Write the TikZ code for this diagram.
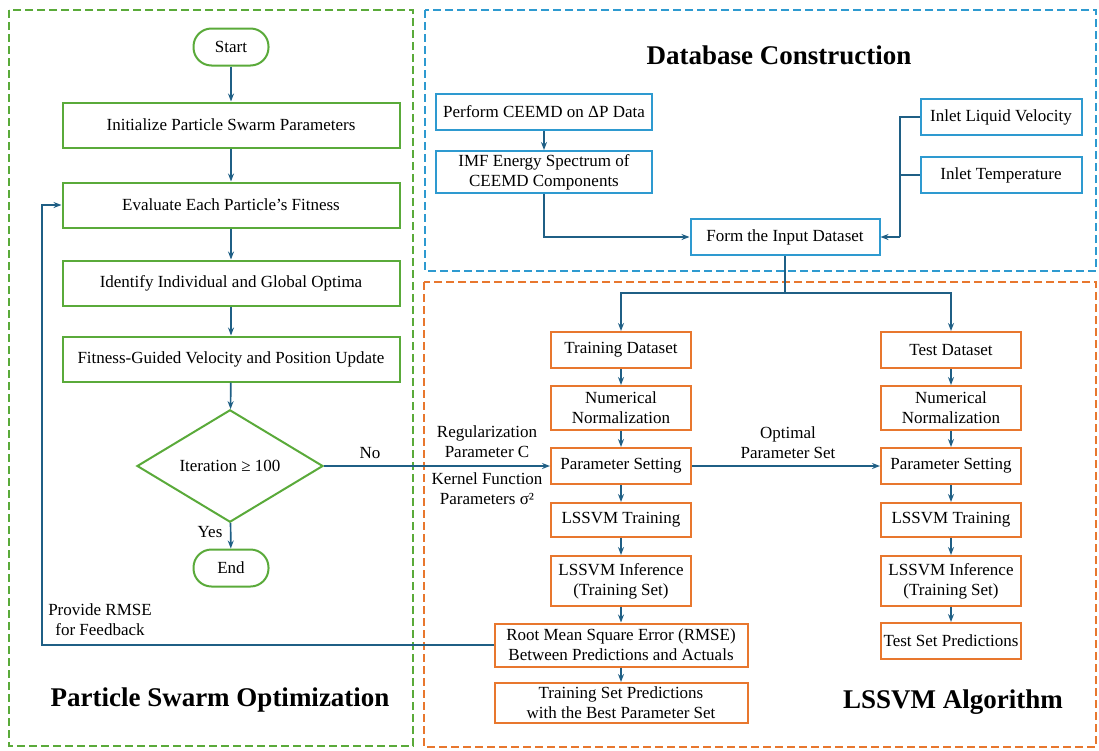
\documentclass[tikz,border=0pt]{standalone}
\usepackage{fontspec}
\setmainfont{Liberation Serif}
\usetikzlibrary{shapes.geometric,arrows.meta}
\definecolor{psogreen}{HTML}{5AAA3A}
\definecolor{dbblue}{HTML}{2E9AD0}
\definecolor{lsorange}{HTML}{E8772E}
\definecolor{flowblue}{HTML}{1F5F85}

\begin{document}
\begin{tikzpicture}[x=1pt,y=-1pt,
	every node/.style={font=\fontsize{17}{20}\selectfont,inner sep=0pt,align=center},
	psobox/.style={draw=psogreen,line width=2pt,minimum width=337pt,minimum height=45pt},
	termbox/.style={draw=psogreen,line width=2pt,rounded corners=18pt,minimum width=75pt,minimum height=37pt},
	dbbox/.style={draw=dbblue,line width=2pt,minimum height=36pt},
	lsbox/.style={draw=lsorange,line width=2pt,minimum width=140pt,minimum height=36pt},
	frame/.style={line width=2.8pt,dash pattern=on 8pt off 4pt},
	title/.style={font=\bfseries\fontsize{27}{30}\selectfont},
	arr/.style={flowblue,line width=1.7pt,-{Stealth[length=8pt,width=6pt]}},
	line/.style={flowblue,line width=1.7pt}]
	\useasboundingbox (0,0) rectangle (1099,750);

	\draw[frame,psogreen] (9,10) rectangle (413,746);
	\draw[frame,dbblue] (425,10) rectangle (1096,271);
	\draw[frame,lsorange] (424,282) rectangle (1096,747);

	\node[termbox] (start) at (231,47) {Start};
	\node[psobox] (init) at (231,125) {Initialize Particle Swarm Parameters};
	\node[psobox] (eval) at (231,205) {Evaluate Each Particle’s Fitness};
	\node[psobox] (optima) at (231,283) {Identify Individual and Global Optima};
	\node[psobox] (update) at (231,359) {Fitness-Guided Velocity and Position Update};
	\node[diamond,draw=psogreen,line width=2pt,minimum width=186pt,minimum height=90pt] (iter) at (230,466) {Iteration ≥ 100};
	\node[termbox] (end) at (231,568) {End};
	\node (yes) at (210,532) {Yes};
	\node (no) at (370,453) {No};
	\node (fbtext) at (100,620) {Provide RMSE\\for Feedback};
	\node[title] (psotitle) at (220,700) {Particle Swarm Optimization};

	\node[title] (dbtitle) at (779,55) {Database Construction};
	\node[dbbox,minimum width=216pt] (ceemd) at (544,112) {Perform CEEMD on ΔP Data};
	\node[dbbox,minimum width=216pt,minimum height=42pt] (imf) at (544,172) {IMF Energy Spectrum of\\CEEMD Components};
	\node[dbbox,minimum width=161pt] (vel) at (1001,117) {Inlet Liquid Velocity};
	\node[dbbox,minimum width=161pt] (temp) at (1001,175) {Inlet Temperature};
	\node[dbbox,minimum width=189pt] (form) at (785,237) {Form the Input Dataset};
	\coordinate (join) at (900,237);
	\coordinate (split) at (785,293);

	\node[lsbox] (train) at (621,350) {Training Dataset};
	\node[lsbox,minimum height=44pt] (norm1) at (621,408) {Numerical\\Normalization};
	\node[lsbox] (param1) at (621,466) {Parameter Setting};
	\node[lsbox,minimum height=34pt] (fit1) at (621,520) {LSSVM Training};
	\node[lsbox,minimum height=50pt] (inf1) at (621,581) {LSSVM Inference\\(Training Set)};
	\node[lsbox,minimum width=253pt,minimum height=43pt] (rmse) at (621,645) {Root Mean Square Error (RMSE)\\Between Predictions and Actuals};
	\node[lsbox,minimum width=253pt,minimum height=40pt] (best) at (621,703) {Training Set Predictions\\with the Best Parameter Set};
	\node (regtext) at (487,442) {Regularization\\Parameter C};
	\node (kertext) at (487,489) {Kernel Function\\Parameters σ²};

	\node[lsbox] (test) at (951,350) {Test Dataset};
	\node[lsbox,minimum height=44pt] (norm2) at (951,408) {Numerical\\Normalization};
	\node[lsbox] (param2) at (951,466) {Parameter Setting};
	\node[lsbox,minimum height=34pt] (fit2) at (951,520) {LSSVM Training};
	\node[lsbox,minimum height=50pt] (inf2) at (951,581) {LSSVM Inference\\(Training Set)};
	\node[lsbox] (pred) at (951,641) {Test Set Predictions};
	\node (opttext) at (788,443) {Optimal\\Parameter Set};
	\node[title] (lstitle) at (953,702) {LSSVM Algorithm};
	\coordinate (fb) at (42,645);

	\draw[arr] (start) -- (init);
	\draw[arr] (init) -- (eval);
	\draw[arr] (eval) -- (optima);
	\draw[arr] (optima) -- (update);
	\draw[arr] (update) -- (iter);
	\draw[arr] (iter) -- (end);
	\draw[arr] (iter) -- (param1);

	\draw[arr] (ceemd) -- (imf);
	\draw[arr] (imf.south) |- (form.west);
	\draw[line] (vel.west) -| (join);
	\draw[line] (temp.west) -- (temp.west -| join);
	\draw[arr] (join) -- (form.east);
	\draw[line] (form.south) -- (split);
	\draw[arr] (split) -| (train.north);
	\draw[arr] (split) -| (test.north);

	\draw[arr] (train) -- (norm1);
	\draw[arr] (norm1) -- (param1);
	\draw[arr] (param1) -- (fit1);
	\draw[arr] (fit1) -- (inf1);
	\draw[arr] (inf1) -- (rmse);
	\draw[arr] (rmse) -- (best);
	\draw[arr] (rmse.west) -- (fb) |- (eval.west);

	\draw[arr] (param1) -- (param2);
	\draw[arr] (test) -- (norm2);
	\draw[arr] (norm2) -- (param2);
	\draw[arr] (param2) -- (fit2);
	\draw[arr] (fit2) -- (inf2);
	\draw[arr] (inf2) -- (pred);
\end{tikzpicture}
\end{document}
